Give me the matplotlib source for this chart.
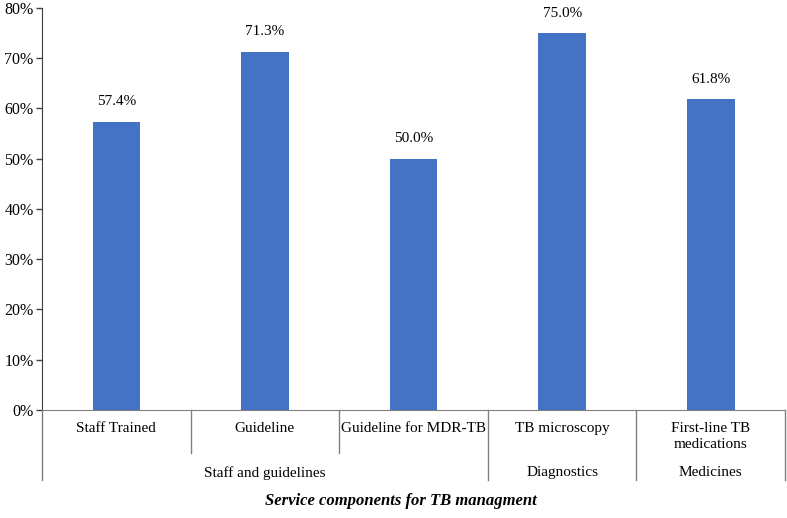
import matplotlib.pyplot as plt
from matplotlib.ticker import PercentFormatter

categories = ['Staff Trained', 'Guideline', 'Guideline for MDR-TB', 'TB microscopy', 'First-line TB\nmedications']
values = [57.4, 71.3, 50.0, 75.0, 61.8]
groups = ['Staff and guidelines', 'Diagnostics', 'Medicines']
group_sizes = [3, 1, 1]

plt.rcParams['font.family'] = ['Liberation Serif', 'DejaVu Serif']

fig = plt.figure(figsize=(7.87, 5.18), dpi=100)
ax = fig.add_axes([0.0534, 0.2085, 0.9441, 0.7761])

x = list(range(len(categories)))
ax.bar(x, values, width=0.32, color='#4472C4', zorder=2)
for xi, v in zip(x, values):
    ax.text(xi, v + 2.7, f'{v:.1f}%', ha='center', va='bottom', fontsize=11)

ax.set_xlim(-0.5, len(categories) - 0.5)
ax.set_ylim(0, 80)
ax.set_yticks(range(0, 81, 10))
ax.yaxis.set_major_formatter(PercentFormatter(decimals=0))
ax.tick_params(axis='y', labelsize=11.5, length=4, width=1, color='#404040', pad=2)
ax.set_xticks([])

for s in ['top', 'right']:
    ax.spines[s].set_visible(False)
ax.spines['left'].set_color('#404040')
ax.spines['bottom'].set_color('#808080')

tr = ax.get_xaxis_transform()
line_kw = dict(color='#808080', lw=1, clip_on=False, transform=tr)

# level 1 labels
for xi, lab in zip(x, categories):
    ax.text(xi, -0.03, lab, ha='center', va='top', fontsize=11, linespacing=1.3, transform=tr)

# group labels and dividers
start = 0
bounds = [-0.5]
for g, n in zip(groups, group_sizes):
    ax.text(start + (n - 1) / 2, -0.156, g, ha='center', va='center', fontsize=11, transform=tr)
    for k in range(1, n):
        ax.plot([start + k - 0.5] * 2, [0, -0.107], **line_kw)
    start += n
    bounds.append(start - 0.5)
for b in bounds:
    ax.plot([b, b], [0, -0.174], **line_kw)

fig.text(401 / 787, 1 - 501 / 518, 'Service components for TB managment', ha='center', va='center',
         fontsize=12, fontweight='bold', fontstyle='italic')

plt.savefig('out.png', dpi=100)
